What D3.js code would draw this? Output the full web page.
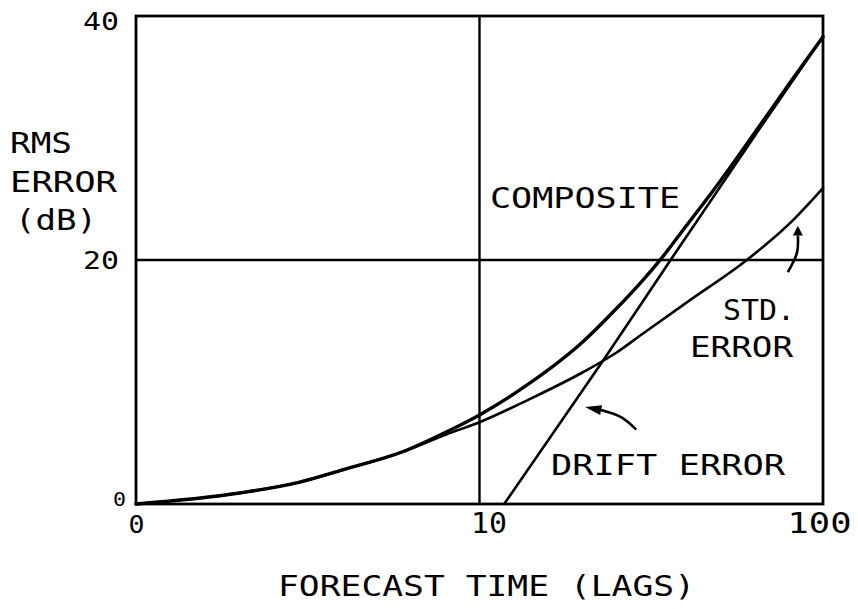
<!DOCTYPE html>
<html>
<head>
<meta charset="utf-8">
<script src="https://cdn.jsdelivr.net/npm/d3@7"></script>
<style>
  html, body { margin: 0; padding: 0; background: #fff; }
  svg { display: block; }
  text { font-family: "DejaVu Sans Mono", monospace; fill: #000; }
</style>
</head>
<body>
<svg id="chart" width="858" height="609"></svg>
<script>
// ---- data ----
const xTicks = [1, 10, 100];
const xTickLabels = ["0", "10", "100"];
const yTicks = [0, 20, 40];
const yTickLabels = ["0", "20", "40"];
const xGrid = [10];
const yGrid = [20];

const stdLags  = [1, 2, 3, 4, 6, 8, 10, 14, 20, 25, 30, 40, 60, 80, 100];
const stdError = [0, 0.9, 1.8, 2.8, 4.3, 5.7, 6.7, 8.6, 10.8, 12.4, 14.0, 16.5, 20.0, 23.0, 25.9];

const compLags  = [1, 2, 3, 4, 6, 8, 10, 14, 20, 25, 30, 34, 40, 50, 65, 80, 100];
const composite = [0, 0.9, 1.8, 2.8, 4.3, 5.9, 7.3, 9.9, 13.3, 16.0, 18.4, 20.2, 22.8, 26.4, 30.9, 34.5, 38.3];

const driftLags  = [11.8, 22.7, 36, 65.5, 100];
const driftError = [0, 11.6, 20, 30.8, 38.3];

// annotation arrows (data units: lag, dB)
const stdArrow   = [[79, 19.0], [84, 20.6], [84.5, 22.0]];
const driftArrow = [[28.6, 6.1], [25.9, 7.1], [22.6, 7.7]];

// ---- layout ----
const svg = d3.select("#chart");
const L = 136, R = 823, T = 16, B = 504;

const x = d3.scaleLog().domain([1, 100]).range([L, R]);
const y = d3.scaleLinear().domain([0, 40]).range([B, T]);

// gridlines
svg.selectAll("line.gx").data(xGrid).join("line")
  .attr("x1", d => x(d)).attr("x2", d => x(d))
  .attr("y1", T).attr("y2", B)
  .attr("stroke", "#000").attr("stroke-width", 2.4);
svg.selectAll("line.gy").data(yGrid).join("line")
  .attr("x1", L).attr("x2", R)
  .attr("y1", d => y(d)).attr("y2", d => y(d))
  .attr("stroke", "#000").attr("stroke-width", 2.4);

// frame
svg.append("rect")
  .attr("x", L).attr("y", T).attr("width", R - L).attr("height", B - T)
  .attr("fill", "none").attr("stroke", "#000").attr("stroke-width", 2.8);

// curves
const line = d3.line()
  .x(d => x(d[0])).y(d => y(d[1]))
  .curve(d3.curveMonotoneX);

function draw(lags, vals, w) {
  svg.append("path")
    .datum(lags.map((l, i) => [l, vals[i]]))
    .attr("d", line)
    .attr("fill", "none").attr("stroke", "#000")
    .attr("stroke-width", w).attr("stroke-linecap", "round");
}
draw(stdLags, stdError, 2.6);
draw(driftLags, driftError, 2.6);
draw(compLags, composite, 3.4);

// axes (labels only)
const xAxis = d3.axisBottom(x).tickValues(xTicks).tickSize(0).tickPadding(12)
  .tickFormat((d, i) => xTickLabels[i]);
const gx = svg.append("g").attr("transform", `translate(0,${B})`).call(xAxis);
gx.select(".domain").remove();
gx.selectAll("text").style("font-family", "DejaVu Sans Mono").attr("fill", "#000")
  .attr("dx", (d, i) => [0, 9, -4][i])
  .style("font-size", (d, i) => i === 0 ? "24px" : "28px")
  .attr("dy", (d, i) => i === 0 ? "0.70em" : "0.60em")
  .attr("textLength", (d, i) => [16, 36, 64][i])
  .attr("lengthAdjust", "spacingAndGlyphs");

const yAxis = d3.axisLeft(y).tickValues(yTicks).tickSize(0).tickPadding(17)
  .tickFormat((d, i) => yTickLabels[i]);
const gy = svg.append("g").attr("transform", `translate(${L},0)`).call(yAxis);
gy.select(".domain").remove();
gy.selectAll("text").style("font-family", "DejaVu Sans Mono").attr("fill", "#000")
  .style("font-size", (d, i) => i === 0 ? "20px" : "25px")
  .attr("dx", (d, i) => i === 0 ? 7 : 0)
  .attr("dy", (d, i) => [ "0.05em", "0.35em", "0.55em" ][i])
  .attr("textLength", (d, i) => i === 0 ? 13 : 36)
  .attr("lengthAdjust", "spacingAndGlyphs");

// text labels
function label(str, px, py, len, size) {
  const t = svg.append("text")
    .attr("x", px).attr("y", py)
    .style("font-size", (size || 28) + "px")
    .text(str);
  if (len) t.attr("textLength", len).attr("lengthAdjust", "spacingAndGlyphs");
  return t;
}
label("RMS", 10, 153, 62);
label("ERROR", 10, 192, 107);
label("(dB)", 15, 230, 82);
label("FORECAST TIME (LAGS)", 278, 596, 417);
label("COMPOSITE", 490, 208, 190);
label("STD.", 723, 320, 72);
label("ERROR", 690, 357, 103);
label("DRIFT ERROR", 551, 475, 234);

// arrows
const arrowLine = d3.line().x(d => x(d[0])).y(d => y(d[1])).curve(d3.curveCatmullRom);
svg.append("path").datum(stdArrow).attr("d", arrowLine)
  .attr("fill", "none").attr("stroke", "#000").attr("stroke-width", 2.6);
svg.append("path").datum(driftArrow).attr("d", arrowLine)
  .attr("fill", "none").attr("stroke", "#000").attr("stroke-width", 2.6);

function head(tip, base, w) {
  const [tx, ty] = [x(tip[0]), y(tip[1])];
  const [bx, by] = [x(base[0]), y(base[1])];
  const dx = tx - bx, dy = ty - by, len = Math.hypot(dx, dy);
  const nx = -dy / len * w, ny = dx / len * w;
  svg.append("path")
    .attr("d", `M${tx},${ty}L${bx + nx},${by + ny}L${bx - nx},${by - ny}Z`)
    .attr("fill", "#000");
}
head([84.5, 22.8], stdArrow[2], 5);
head([20.3, 7.95], driftArrow[2], 5);
</script>
</body>
</html>
